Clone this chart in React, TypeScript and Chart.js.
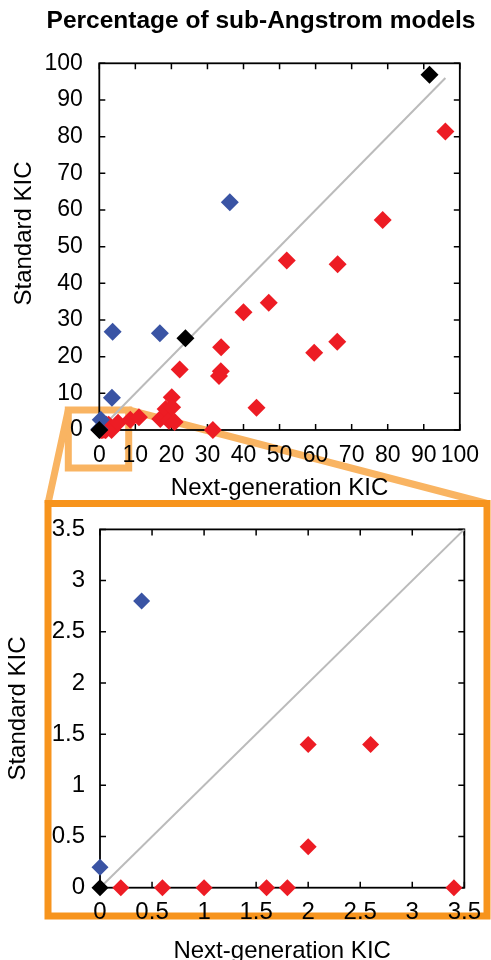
import React, { useEffect, useRef } from "react";
import { Chart, registerables } from "chart.js";

Chart.register(...registerables);

// ---------- text ----------
const TITLE = "Percentage of sub-Angstrom models";
const X_TITLE = "Next-generation KIC";
const Y_TITLE = "Standard KIC";

// ---------- data (Next-generation KIC = x, Standard KIC = y) ----------
const redNextGen = [
  0.2, 0.6, 1.0, 1.6, 1.8, 2.0, 2.0, 2.6, 3.4, 5.2, 8.6, 11.0, 16.9, 18.4,
  19.3, 20.1, 20.2, 20.9, 22.3, 31.5, 33.2, 33.7, 33.8, 40.0, 43.6, 47.0,
  52.0, 59.6, 66.0, 66.1, 78.6, 96.0,
];
const redStandard = [
  0, 0, 0, 0, 0, 0.4, 1.4, 1.4, 0, 2.0, 2.8, 3.5, 3.0, 5.7, 2.5, 8.9, 6.2,
  2.2, 16.5, 0, 14.7, 16.0, 22.6, 32.1, 6.1, 34.7, 46.2, 21.1, 24.1, 45.2,
  57.3, 81.4,
];
const blueNextGen = [0, 0.4, 3.5, 3.7, 16.8, 36.2];
const blueStandard = [0.2, 2.8, 8.8, 26.8, 26.4, 62.1];
const blackNextGen = [0, 23.9, 91.6];
const blackStandard = [0, 25.0, 96.9];

// y = x reference line end points
const topDiagonal = [0, 96];
const zoomDiagonal = [0, 3.5];

// tick values
const topTicks = [0, 10, 20, 30, 40, 50, 60, 70, 80, 90, 100];
const zoomTicks = [0, 0.5, 1, 1.5, 2, 2.5, 3, 3.5];

// ---------- styles ----------
const RED = "#ED1C24";
const BLUE = "#3A54A4";
const BLACK = "#000000";
const GRAY = "#BBBBBB";
const LIGHT_ORANGE = "#F9B462";
const DARK_ORANGE = "#F7941D";
const FONT = "'Liberation Sans', Arial, Helvetica, sans-serif";

const W = 491;
const H = 960;
const ZOOM_TOP = 500;

function pts(xs: number[], ys: number[]) {
  return xs.map((x, i) => ({ x, y: ys[i] }));
}

const framePlugin = {
  id: "frame",
  beforeDatasetsDraw(chart: any) {
    const { ctx, chartArea: a, scales } = chart;
    const x = scales.x;
    const y = scales.y;
    const L = 6;
    ctx.save();
    ctx.strokeStyle = "#000";
    ctx.lineWidth = 1.8;
    ctx.strokeRect(a.left, a.top, a.right - a.left, a.bottom - a.top);
    ctx.lineWidth = 1.5;
    ctx.beginPath();
    x.ticks.forEach((t: any) => {
      const px = x.getPixelForValue(t.value);
      ctx.moveTo(px, a.bottom);
      ctx.lineTo(px, a.bottom - L);
      ctx.moveTo(px, a.top);
      ctx.lineTo(px, a.top + L);
    });
    y.ticks.forEach((t: any) => {
      const py = y.getPixelForValue(t.value);
      ctx.moveTo(a.left, py);
      ctx.lineTo(a.left + L, py);
      ctx.moveTo(a.right, py);
      ctx.lineTo(a.right - L, py);
    });
    ctx.stroke();
    ctx.restore();
  },
};

type TextItem = { text: string; x: number; y: number; font: string; rotate?: boolean };

function textPlugin(items: (chart: any) => TextItem[]) {
  return {
    id: "texts",
    afterDraw(chart: any) {
      const ctx = chart.ctx;
      items(chart).forEach((it) => {
        ctx.save();
        ctx.fillStyle = "#000";
        ctx.font = it.font;
        ctx.textAlign = "center";
        ctx.textBaseline = "middle";
        ctx.translate(it.x, it.y);
        if (it.rotate) ctx.rotate(-Math.PI / 2);
        ctx.fillText(it.text, 0, 0);
        ctx.restore();
      });
    },
  };
}

// callout (zoom box, connectors, zoom frame), in page pixels
const calloutPlugin = {
  id: "callout",
  beforeDraw(chart: any) {
    const ctx = chart.ctx;
    ctx.save();
    ctx.lineWidth = 7;
    ctx.lineJoin = "miter";
    ctx.strokeStyle = LIGHT_ORANGE;
    ctx.strokeRect(68.3, 410, 60.4, 58);
    ctx.beginPath();
    ctx.moveTo(68.3, 410);
    ctx.lineTo(48, 503.5);
    ctx.moveTo(128.7, 410);
    ctx.lineTo(487, 503.5);
    ctx.stroke();
    ctx.strokeStyle = DARK_ORANGE;
    ctx.strokeRect(48, 503.5, 439, 412.5);
    ctx.restore();
  },
};

function datasets(diag: number[], r: number, clip: any) {
  const base = { pointStyle: "rectRot", pointRadius: r, borderWidth: 0, clip };
  return [
    { ...base, label: "black", data: pts(blackNextGen, blackStandard), backgroundColor: BLACK, order: 0 },
    { ...base, label: "blue", data: pts(blueNextGen, blueStandard), backgroundColor: BLUE, order: 1 },
    { ...base, label: "red", data: pts(redNextGen, redStandard), backgroundColor: RED, order: 2 },
    {
      type: "line",
      label: "diagonal",
      data: pts(diag, diag),
      borderColor: GRAY,
      borderWidth: 2,
      pointRadius: 0,
      showLine: true,
      fill: false,
      order: 3,
      clip,
    },
  ];
}

function scaleOpts(
  min: number,
  max: number,
  ticks: number[],
  axis: "x" | "y",
  size: number,
  pad: number,
  fontSize: number
) {
  return {
    type: "linear",
    min,
    max,
    grid: { display: false, drawTicks: false, tickLength: 0 },
    border: { display: false },
    afterBuildTicks: (s: any) => {
      s.ticks = ticks.map((v) => ({ value: v }));
    },
    afterFit: (s: any) => {
      if (axis === "x") s.height = size;
      else s.width = size;
    },
    ticks: {
      padding: pad,
      color: "#000",
      autoSkip: false,
      maxRotation: 0,
      font: { family: FONT, size: fontSize },
      callback: (v: any) => String(v),
    },
  };
}

export default function App() {
  const topRef = useRef<HTMLCanvasElement>(null);
  const zoomRef = useRef<HTMLCanvasElement>(null);

  useEffect(() => {
    document.body.style.margin = "0";
    const top = new Chart(topRef.current as HTMLCanvasElement, {
      type: "scatter",
      data: { datasets: datasets(topDiagonal, 9, false) as any },
      options: {
        responsive: false,
        animation: false,
        devicePixelRatio: 1,
        events: [],
        layout: { padding: { top: 63.3, left: 0, right: 25, bottom: 490 } },
        plugins: { legend: { display: false }, tooltip: { enabled: false }, title: { display: false } },
        scales: {
          x: scaleOpts(0, 100, topTicks, "x", 40, 12, 23) as any,
          y: scaleOpts(0, 100, topTicks, "y", 99.3, 16.5, 23) as any,
        },
      },
      plugins: [
        calloutPlugin,
        framePlugin,
        textPlugin((c) => [
          { text: TITLE, x: 261, y: 21, font: `bold 24.5px ${FONT}` },
          { text: X_TITLE, x: (c.chartArea.left + c.chartArea.right) / 2, y: 488, font: `24px ${FONT}` },
          { text: Y_TITLE, x: 24, y: 233.5, font: `24px ${FONT}`, rotate: true },
        ]),
      ],
    } as any);

    const zoom = new Chart(zoomRef.current as HTMLCanvasElement, {
      type: "scatter",
      data: { datasets: datasets(zoomDiagonal, 8.5, { left: 12, top: 0, right: 12, bottom: 12 }) as any },
      options: {
        responsive: false,
        animation: false,
        devicePixelRatio: 1,
        events: [],
        layout: { padding: { top: 21.7, left: 0, right: 24.3, bottom: 32.3 } },
        plugins: { legend: { display: false }, tooltip: { enabled: false }, title: { display: false } },
        scales: {
          x: scaleOpts(0, 3.5, zoomTicks, "x", 40, 10, 24) as any,
          y: scaleOpts(0, 3.5, zoomTicks, "y", 100, 15, 24) as any,
        },
      },
      plugins: [
        framePlugin,
        textPlugin((c) => [
          { text: X_TITLE, x: (c.chartArea.left + c.chartArea.right) / 2, y: 451, font: `24px ${FONT}` },
          { text: Y_TITLE, x: 18, y: (c.chartArea.top + c.chartArea.bottom) / 2, font: `24px ${FONT}`, rotate: true },
        ]),
      ],
    } as any);

    return () => {
      top.destroy();
      zoom.destroy();
    };
  }, []);

  return (
    <div style={{ position: "fixed", left: 0, top: 0, width: W, height: H, background: "#fff", overflow: "hidden" }}>
      <canvas ref={topRef} width={W} height={H} style={{ position: "absolute", left: 0, top: 0, width: W, height: H }} />
      <canvas
        ref={zoomRef}
        width={W}
        height={H - ZOOM_TOP}
        style={{ position: "absolute", left: 0, top: ZOOM_TOP, width: W, height: H - ZOOM_TOP }}
      />
    </div>
  );
}
